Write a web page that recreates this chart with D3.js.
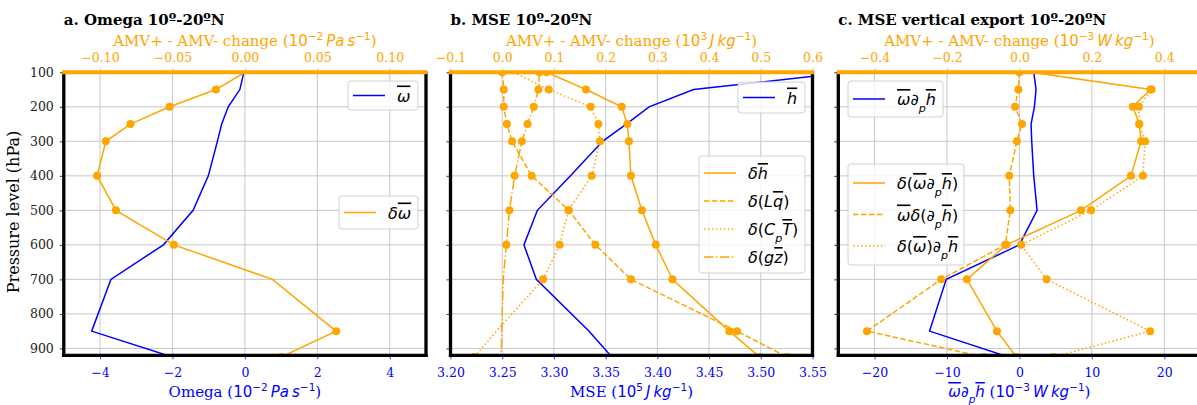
<!DOCTYPE html>
<html>
<head>
<meta charset="utf-8">
<script src="https://cdn.jsdelivr.net/npm/d3@7"></script>
<style>
  body { margin: 0; background: #fff; }
  svg text { font-family: "DejaVu Serif", serif; }
</style>
</head>
<body>
<svg id="chart" width="1197" height="405"></svg>
<script>
// Pressure levels (hPa) shared by every profile
const levels = [100, 150, 200, 250, 300, 400, 500, 600, 700, 850, 925];
const pressureTicks = [100, 200, 300, 400, 500, 600, 700, 800, 900];

// a. Omega (bottom axis 1e-2 Pa/s, change on top axis)
const omegaMean = [-0.03, -0.14, -0.46, -0.64, -0.76, -1.01, -1.43, -2.25, -3.70, -4.23, -2.0];
const omegaChange = [0.000, -0.020, -0.052, -0.079, -0.096, -0.102, -0.089, -0.049, 0.019, 0.063, 0.025];
const omegaChangeSig = [0, 1, 1, 1, 1, 1, 1, 1, 0, 1, 1];
const omegaTicks = [-4, -2, 0, 2, 4];
const omegaChangeTicks = [-0.10, -0.05, 0.00, 0.05, 0.10];

// b. MSE (bottom axis 1e5 J/kg, changes on top axis 1e3 J/kg)
const mseMean = [3.585, 3.435, 3.392, 3.370, 3.347, 3.316, 3.284, 3.271, 3.283, 3.334, 3.356];
const mseDeltaH = [0.086, 0.162, 0.231, 0.242, 0.245, 0.249, 0.270, 0.297, 0.329, 0.439, 0.498];
const mseDeltaLq = [0.000, 0.003, 0.003, 0.009, 0.019, 0.057, 0.129, 0.180, 0.249, 0.454, 0.551];
const mseDeltaCpT = [0.022, 0.090, 0.171, 0.186, 0.189, 0.173, 0.128, 0.111, 0.079, -0.011, -0.054];
const mseDeltaGz = [0.072, 0.070, 0.061, 0.049, 0.038, 0.024, 0.014, 0.008, 0.002, -0.001, -0.002];
const mseDeltaHSig = [1, 1, 1, 1, 1, 1, 1, 1, 1, 1, 1];
const mseDeltaLqSig = [1, 1, 1, 1, 1, 1, 1, 1, 1, 1, 1];
const mseDeltaCpTSig = [0, 1, 1, 1, 1, 1, 1, 1, 1, 0, 1];
const mseDeltaGzSig = [1, 1, 1, 1, 1, 1, 1, 1, 0, 0, 0];
const mseTicks = [3.20, 3.25, 3.30, 3.35, 3.40, 3.45, 3.50, 3.55];
const mseChangeTicks = [-0.1, 0.0, 0.1, 0.2, 0.3, 0.4, 0.5, 0.6];

// c. MSE vertical export (bottom axis 1e-3 W/kg, changes on top axis)
const exportMean = [1.98, 2.30, 2.07, 1.61, 1.70, 1.98, 2.44, 0.0, -10.1, -12.4, -1.5];
const exportDelta = [0.035, 0.362, 0.313, 0.331, 0.336, 0.308, 0.170, -0.036, -0.145, -0.062, -0.008];
const exportDeltaDh = [0.000, -0.003, -0.012, 0.007, -0.007, -0.028, -0.025, -0.039, -0.216, -0.421, -0.097];
const exportDeltaOmega = [0.035, 0.365, 0.330, 0.331, 0.347, 0.341, 0.198, 0.005, 0.075, 0.361, 0.094];
const exportDeltaSig = [0, 1, 1, 1, 1, 1, 1, 1, 1, 1, 1];
const exportDeltaDhSig = [1, 1, 1, 1, 1, 1, 1, 1, 1, 1, 1];
const exportDeltaOmegaSig = [0, 1, 1, 1, 1, 1, 1, 1, 1, 1, 1];
const exportTicks = [-20, -10, 0, 10, 20];
const exportChangeTicks = [-0.4, -0.2, 0.0, 0.2, 0.4];

const BLUE = "#0000ff";
const ORANGE = "#ffa500";
const DASH = { solid: null, dashed: "5.55,2.4", dotted: "1.5,2.475", dashdot: "9.6,2.4,1.5,2.4" };

const svg = d3.select("#chart");
const plotTop = 72.3, plotBottom = 355.3;
const y = d3.scaleLinear().domain([100, 920]).range([plotTop, plotBottom]);

// append mathtext-like pieces as tspans
function addMath(text, parts) {
    parts.forEach(p => {
        const ts = text.append("tspan").text(p.t);
        if (p.m) ts.attr("font-family", "DejaVu Sans");
        if (p.i) ts.attr("font-family", "DejaVu Sans").attr("font-style", "italic");
        if (p.o) ts.style("text-decoration", "overline");
        if (p.sup) ts.attr("baseline-shift", "super").attr("font-size", "70%");
        if (p.sub) ts.attr("baseline-shift", "sub").attr("font-size", "70%");
    });
}

function units(exp, u) {
    return [{ t: "10", m: 1 }, { t: exp, m: 1, sup: 1 }, { t: "\u2009" }, { t: u, i: 1 },
            { t: "\u2009" }, { t: "kg", i: 1 }, { t: "\u22121", m: 1, sup: 1 }];
}

function drawPanel(p) {
    const g = svg.append("g");
    const x = d3.scaleLinear().domain(p.xDomain).range([p.left, p.right]);
    const xt = d3.scaleLinear().domain(p.topDomain).range([p.left, p.right]);
    const clipId = "clip-" + p.id;

    g.append("clipPath").attr("id", clipId)
        .append("rect").attr("x", p.left).attr("y", plotTop)
        .attr("width", p.right - p.left).attr("height", plotBottom - plotTop);

    // grid
    const grid = g.append("g").attr("stroke", "#b0b0b0").attr("stroke-width", 1).attr("opacity", 0.7);
    grid.selectAll(".gx").data(p.xTicks).join("line")
        .attr("x1", d => x(d)).attr("x2", d => x(d)).attr("y1", plotTop).attr("y2", plotBottom);
    grid.selectAll(".gy").data(pressureTicks).join("line")
        .attr("x1", p.left).attr("x2", p.right).attr("y1", d => y(d)).attr("y2", d => y(d));

    // profiles
    const plot = g.append("g").attr("clip-path", `url(#${clipId})`);
    p.series.forEach(s => {
        const sc = s.axis === "top" ? xt : x;
        const pts = levels.map((lev, i) => ({ p: lev, v: s.values[i], sig: s.sig ? s.sig[i] : 0 }));
        const line = d3.line().x(d => sc(d.v)).y(d => y(d.p));
        plot.append("path").datum(pts)
            .attr("d", line)
            .attr("fill", "none")
            .attr("stroke", s.color)
            .attr("stroke-width", 1.5)
            .attr("stroke-dasharray", DASH[s.dash]);
        plot.selectAll(null).data(pts.filter(d => d.sig)).join("circle")
            .attr("cx", d => sc(d.v)).attr("cy", d => y(d.p)).attr("r", 4)
            .attr("fill", s.color);
    });

    // axes
    const ax = g.append("g").attr("transform", `translate(0,${plotBottom})`)
        .call(d3.axisBottom(x).tickValues(p.xTicks).tickFormat(d3.format(p.xFmt)).tickSize(4).tickPadding(9));
    ax.select(".domain").remove();
    ax.selectAll("line").attr("stroke", BLUE).attr("stroke-width", 0.8);
    ax.selectAll("text").attr("fill", BLUE).attr("font-size", 12.5).attr("font-family", "DejaVu Serif");

    const axt = g.append("g").attr("transform", `translate(0,${plotTop})`)
        .call(d3.axisTop(xt).tickValues(p.topTicks).tickFormat(d3.format(p.topFmt)).tickSize(4).tickPadding(6));
    axt.select(".domain").remove();
    axt.selectAll("line").attr("stroke", ORANGE).attr("stroke-width", 0.8);
    axt.selectAll("text").attr("fill", ORANGE).attr("font-size", 12.5).attr("font-family", "DejaVu Serif");

    const ay = g.append("g").attr("transform", `translate(${p.left},0)`)
        .call(d3.axisLeft(y).tickValues(pressureTicks).tickSize(4).tickPadding(6)
            .tickFormat(p.yLabels ? d3.format("d") : () => ""));
    ay.select(".domain").remove();
    ay.selectAll("line").attr("stroke", "#000").attr("stroke-width", 0.8);
    ay.selectAll("text").attr("fill", "#222").attr("font-size", 12.5).attr("font-family", "DejaVu Serif");

    // spines
    const sp = g.append("g");
    sp.append("line").attr("x1", p.left).attr("x2", p.left).attr("y1", plotTop).attr("y2", plotBottom + 1.6)
        .attr("stroke", "#000").attr("stroke-width", 3.3);
    sp.append("line").attr("x1", p.right).attr("x2", p.right).attr("y1", plotTop).attr("y2", plotBottom + 1.6)
        .attr("stroke", "#000").attr("stroke-width", 3.3);
    sp.append("line").attr("x1", p.left - 1.6).attr("x2", p.right + 1.6).attr("y1", plotBottom).attr("y2", plotBottom)
        .attr("stroke", "#000").attr("stroke-width", 3.3);
    sp.append("line").attr("x1", p.left - 1.6).attr("x2", p.right + 1.6).attr("y1", plotTop).attr("y2", plotTop)
        .attr("stroke", ORANGE).attr("stroke-width", 4);

    // labels
    const cx = (p.left + p.right) / 2;
    g.append("text").attr("x", p.left).attr("y", 25)
        .attr("font-size", 15).attr("font-weight", "bold").attr("fill", "#000").text(p.title);
    const tl = g.append("text").attr("x", cx).attr("y", 45.5).attr("text-anchor", "middle")
        .attr("font-size", 15).attr("fill", ORANGE);
    addMath(tl, p.topLabel);
    const bl = g.append("text").attr("x", cx).attr("y", 397).attr("text-anchor", "middle")
        .attr("font-size", 15).attr("fill", BLUE);
    addMath(bl, p.bottomLabel);

    // legends
    p.legends.forEach(L => {
        const lg = g.append("g");
        lg.append("rect").attr("x", L.x).attr("y", L.y).attr("width", L.w).attr("height", L.h)
            .attr("rx", 3).attr("fill", "#fff").attr("fill-opacity", 0.8)
            .attr("stroke", "#d0d0d0").attr("stroke-width", 1);
        L.items.forEach((it, i) => {
            const yy = L.y + L.first + i * L.step;
            lg.append("line").attr("x1", L.x + 5).attr("x2", L.x + 37).attr("y1", yy).attr("y2", yy)
                .attr("stroke", it.color).attr("stroke-width", 1.5).attr("stroke-dasharray", DASH[it.dash]);
            const t = lg.append("text").attr("x", L.x + 49).attr("y", yy + 6)
                .attr("font-size", 16).attr("fill", "#000").attr("font-family", "DejaVu Sans");
            addMath(t, it.label);
        });
    });
    return g;
}

const I = s => ({ t: s, i: 1 });
const O = s => ({ t: s, i: 1, o: 1 });
const M = s => ({ t: s, m: 1 });
const SUB = s => ({ t: s, i: 1, sub: 1 });

drawPanel({
    id: "a", left: 63.8, right: 426, yLabels: true,
    xDomain: [-5, 5], topDomain: [-0.125, 0.125],
    xTicks: omegaTicks, topTicks: omegaChangeTicks, xFmt: "d", topFmt: ".2f",
    title: "a. Omega 10º-20ºN",
    topLabel: [{ t: "AMV+ - AMV- change (" }, { t: "10", m: 1 }, { t: "\u22122", m: 1, sup: 1 }, { t: "\u2009" },
        I("Pa"), { t: "\u2009" }, I("s"), { t: "\u22121", m: 1, sup: 1 }, { t: ")" }],
    bottomLabel: [{ t: "Omega (" }, { t: "10", m: 1 }, { t: "\u22122", m: 1, sup: 1 }, { t: "\u2009" },
        I("Pa"), { t: "\u2009" }, I("s"), { t: "\u22121", m: 1, sup: 1 }, { t: ")" }],
    series: [
        { values: omegaMean, axis: "bottom", color: BLUE, dash: "solid" },
        { values: omegaChange, sig: omegaChangeSig, axis: "top", color: ORANGE, dash: "solid" }
    ],
    legends: [
        { x: 348, y: 81, w: 70, h: 29, first: 14.5, step: 28, items: [{ color: BLUE, dash: "solid", label: [O("ω")] }] },
        { x: 339, y: 196, w: 79, h: 33, first: 16.5, step: 28, items: [{ color: ORANGE, dash: "solid", label: [I("δ"), O("ω")] }] }
    ]
});

drawPanel({
    id: "b", left: 450.5, right: 812.5, yLabels: false,
    xDomain: [3.20, 3.55], topDomain: [-0.1, 0.6],
    xTicks: mseTicks, topTicks: mseChangeTicks, xFmt: ".2f", topFmt: ".1f",
    title: "b. MSE 10º-20ºN",
    topLabel: [{ t: "AMV+ - AMV- change (" }].concat(units("3", "J")).concat([{ t: ")" }]),
    bottomLabel: [{ t: "MSE (" }].concat(units("5", "J")).concat([{ t: ")" }]),
    series: [
        { values: mseMean, axis: "bottom", color: BLUE, dash: "solid" },
        { values: mseDeltaH, sig: mseDeltaHSig, axis: "top", color: ORANGE, dash: "solid" },
        { values: mseDeltaLq, sig: mseDeltaLqSig, axis: "top", color: ORANGE, dash: "dashed" },
        { values: mseDeltaCpT, sig: mseDeltaCpTSig, axis: "top", color: ORANGE, dash: "dotted" },
        { values: mseDeltaGz, sig: mseDeltaGzSig, axis: "top", color: ORANGE, dash: "dashdot" }
    ],
    legends: [
        { x: 738, y: 82, w: 67, h: 31, first: 15.5, step: 28, items: [{ color: BLUE, dash: "solid", label: [O("h")] }] },
        { x: 699, y: 156, w: 106, h: 117, first: 17, step: 28, items: [
            { color: ORANGE, dash: "solid", label: [I("δ"), O("h")] },
            { color: ORANGE, dash: "dashed", label: [I("δ"), M("("), I("L"), O("q"), M(")")] },
            { color: ORANGE, dash: "dotted", label: [I("δ"), M("("), I("C"), SUB("p"), O("T"), M(")")] },
            { color: ORANGE, dash: "dashdot", label: [I("δ"), M("("), I("g"), O("z"), M(")")] }
        ] }
    ]
});

drawPanel({
    id: "c", left: 838.3, right: 1200.5, yLabels: false,
    xDomain: [-25, 25], topDomain: [-0.5, 0.5],
    xTicks: exportTicks, topTicks: exportChangeTicks, xFmt: "d", topFmt: ".1f",
    title: "c. MSE vertical export 10º-20ºN",
    topLabel: [{ t: "AMV+ - AMV- change (" }].concat(units("\u22123", "W")).concat([{ t: ")" }]),
    bottomLabel: [O("ω"), M("∂"), SUB("p"), O("h"), { t: " (" }].concat(units("\u22123", "W")).concat([{ t: ")" }]),
    series: [
        { values: exportMean, axis: "bottom", color: BLUE, dash: "solid" },
        { values: exportDelta, sig: exportDeltaSig, axis: "top", color: ORANGE, dash: "solid" },
        { values: exportDeltaDh, sig: exportDeltaDhSig, axis: "top", color: ORANGE, dash: "dashed" },
        { values: exportDeltaOmega, sig: exportDeltaOmegaSig, axis: "top", color: ORANGE, dash: "dotted" }
    ],
    legends: [
        { x: 848, y: 81, w: 95, h: 36, first: 18, step: 31, items: [{ color: BLUE, dash: "solid", label: [O("ω"), M("∂"), SUB("p"), O("h")] }] },
        { x: 848, y: 164, w: 116, h: 101, first: 19, step: 31.5, items: [
            { color: ORANGE, dash: "solid", label: [I("δ"), M("("), O("ω"), M("∂"), SUB("p"), O("h"), M(")")] },
            { color: ORANGE, dash: "dashed", label: [O("ω"), I("δ"), M("("), M("∂"), SUB("p"), O("h"), M(")")] },
            { color: ORANGE, dash: "dotted", label: [I("δ"), M("("), O("ω"), M(")"), M("∂"), SUB("p"), O("h")] }
        ] }
    ]
});

// shared y label
svg.append("text")
    .attr("transform", "translate(19,212) rotate(-90)")
    .attr("text-anchor", "middle").attr("font-size", 16).attr("fill", "#000")
    .text("Pressure level (hPa)");
</script>
</body>
</html>
